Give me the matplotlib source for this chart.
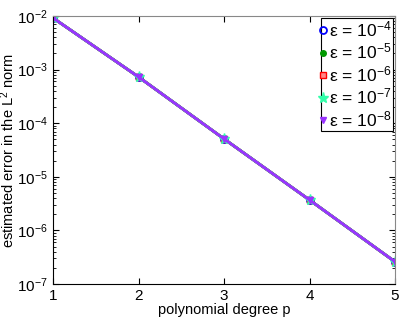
import numpy as np
import matplotlib.pyplot as plt

plt.rcParams['font.family'] = ['Liberation Sans', 'DejaVu Sans']
plt.rcParams['mathtext.fontset'] = 'custom'
plt.rcParams['mathtext.rm'] = 'Liberation Sans'
plt.rcParams['mathtext.it'] = 'Liberation Sans'

# polynomial degree and estimated errors for each epsilon
degree = [1, 2, 3, 4, 5]
err_eps4 = [9.2e-3, 7.3e-4, 5.1e-5, 3.7e-6, 2.6e-7]
err_eps5 = [9.2e-3, 7.3e-4, 5.1e-5, 3.7e-6, 2.6e-7]
err_eps6 = [9.2e-3, 7.3e-4, 5.1e-5, 3.7e-6, 2.6e-7]
err_eps7 = [9.2e-3, 7.3e-4, 5.1e-5, 3.7e-6, 2.6e-7]
err_eps8 = [9.2e-3, 7.3e-4, 5.1e-5, 3.7e-6, 2.6e-7]
labels = [r'$\mathrm{\varepsilon}$ = 10$^{-4}$', r'$\mathrm{\varepsilon}$ = 10$^{-5}$',
          r'$\mathrm{\varepsilon}$ = 10$^{-6}$', r'$\mathrm{\varepsilon}$ = 10$^{-7}$',
          r'$\mathrm{\varepsilon}$ = 10$^{-8}$']

fig = plt.figure(figsize=(4.05, 3.19), dpi=100)
ax = fig.add_axes([53 / 405, 1 - 284 / 319, 342 / 405, 268 / 319])

ax.semilogy(degree, err_eps4, '-o', color='#0000ff', lw=2, ms=5, mfc='none', mew=1.3, label=labels[0])
ax.semilogy(degree, err_eps5, '-o', color='#009900', lw=2, ms=4, label=labels[1])
ax.semilogy(degree, err_eps6, '-s', color='#ff0000', lw=2, ms=5, mfc='#ff8888', mew=1.0, label=labels[2])
ax.semilogy(degree, err_eps7, '-*', color='#33ffaa', lw=2, ms=8, label=labels[3])
ax.semilogy(degree, err_eps8, '-v', color='#9933ff', lw=2, ms=5, label=labels[4])

ax.set_xlim(1, 5)
ax.set_ylim(1e-7, 1e-2)
ax.set_xticks(degree)
ax.tick_params(which='both', direction='in', top=True, right=True, labelsize=11)
ax.tick_params(which='major', length=4)
ax.tick_params(which='minor', length=2)
for s in ['top', 'right']:
    ax.spines[s].set_color('#888888')
ax.set_xlabel('polynomial degree p', fontsize=10.5, labelpad=0)
ax.set_ylabel(r'estimated error in the L$^2$ norm', fontsize=10.5, labelpad=0)

leg = ax.legend(loc='upper right', fontsize=12.5, handlelength=0, handletextpad=0.35,
                borderpad=0.1, labelspacing=0.15, borderaxespad=0.1, fancybox=False,
                framealpha=1, edgecolor='black')
leg.get_frame().set_linewidth(0.8)

fig.savefig('out.png', dpi=100)
